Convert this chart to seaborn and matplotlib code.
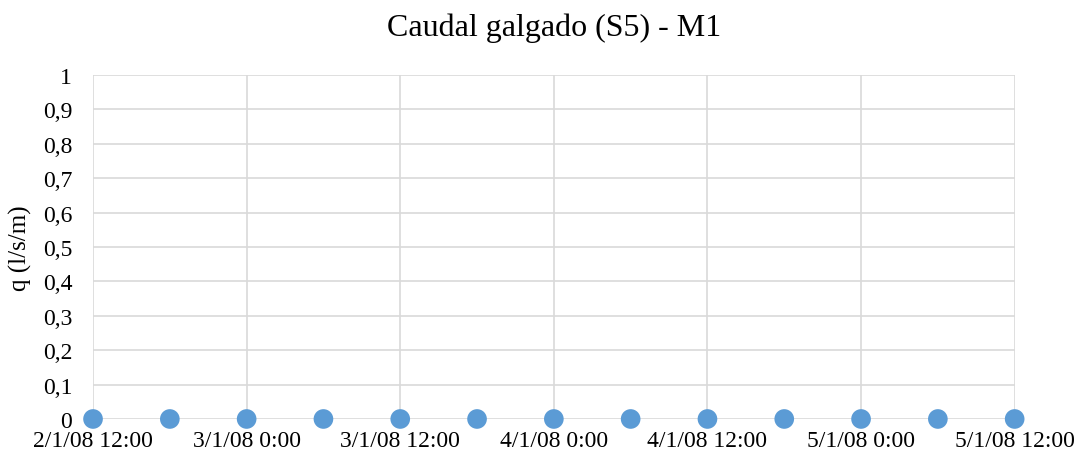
import pandas as pd
import numpy as np
import seaborn as sns
import matplotlib.pyplot as plt
import matplotlib.dates as mdates
from matplotlib.ticker import FuncFormatter, MultipleLocator

# Data: gauged flow every 6 hours (all zero)
times = pd.date_range("2008-01-02 12:00", "2008-01-05 12:00", freq="6h")
q_values = [0, 0, 0, 0, 0, 0, 0, 0, 0, 0, 0, 0, 0]
title = "Caudal galgado (S5) - M1"
y_label = "q (l/s/m)"

df = pd.DataFrame({"time": times, "q": q_values})

sns.set_theme(style="white")
plt.rcParams["font.family"] = ["Liberation Serif", "DejaVu Serif"]
plt.rcParams["text.color"] = "black"
plt.rcParams["axes.labelcolor"] = "black"


def fmt_date(v, p):
    d = mdates.num2date(v)
    return "%d/%d/%s %d:%02d" % (d.day, d.month, d.strftime("%y"), d.hour, d.minute)


def fmt_q(v, p):
    if abs(v) < 1e-9:
        return "0"
    return ("%.1f" % v).rstrip("0").rstrip(".").replace(".", ",")


fig = plt.figure(figsize=(10.83, 4.6), dpi=100)
ax = fig.add_axes([0.0859, 0.087, 0.851, 0.748])

ax.grid(True, color="#d9d9d9", linewidth=1.2)
ax.set_axisbelow(True)

sns.scatterplot(data=df, x="time", y="q", ax=ax, color="#5b9bd5", s=200,
                edgecolor="none", zorder=3, clip_on=False)

ax.set_xlim(times[0], times[-1])
ax.set_ylim(0, 1)
ax.yaxis.set_major_locator(MultipleLocator(0.1))
ax.yaxis.set_major_formatter(FuncFormatter(fmt_q))
ax.xaxis.set_major_locator(mdates.HourLocator(byhour=[0, 12]))
ax.xaxis.set_major_formatter(FuncFormatter(fmt_date))

for s in ax.spines.values():
    s.set_visible(False)
ax.tick_params(axis="both", length=0, labelsize=17, colors="black")
ax.tick_params(axis="x", pad=8)
ax.tick_params(axis="y", pad=15)

ax.set_xlabel("")
ax.set_ylabel(y_label, fontsize=18, labelpad=8)
ax.set_title(title, fontsize=23, pad=29)

fig.savefig("out.png", dpi=100)
